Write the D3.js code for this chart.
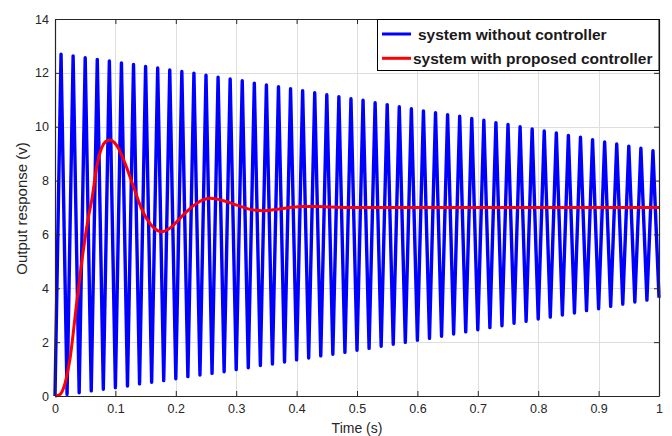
<!DOCTYPE html>
<html>
<head>
<meta charset="utf-8">
<script src="https://cdn.jsdelivr.net/npm/d3@7"></script>
<style>
  html, body { margin: 0; padding: 0; background: #fff; }
  svg { display: block; font-family: 'Liberation Sans', Arial, sans-serif; }
</style>
</head>
<body>
<svg id="chart" width="672" height="436"></svg>
<script>
// values
// system without controller: peak / trough of every cycle
const cycle = 0.02
const peakValues = [
    12.69, 12.63, 12.56, 12.50, 12.44, 12.37, 12.31, 12.24, 12.18, 12.11,
    12.05, 11.99, 11.91, 11.84, 11.77, 11.71, 11.62, 11.55, 11.49, 11.41,
    11.34, 11.26, 11.19, 11.11, 11.04, 10.98, 10.89, 10.82, 10.74, 10.67,
    10.59, 10.52, 10.45, 10.39, 10.31, 10.24, 10.15, 10.08, 10.00, 9.92,
    9.84, 9.77, 9.68, 9.61, 9.52, 9.43, 9.36, 9.28, 9.20, 9.11
]
const troughValues = [
    0.06, 0.12, 0.19, 0.25, 0.31, 0.37, 0.45, 0.51, 0.57, 0.64,
    0.72, 0.78, 0.84, 0.90, 0.98, 1.05, 1.13, 1.19, 1.26, 1.34,
    1.41, 1.49, 1.55, 1.62, 1.70, 1.77, 1.85, 1.92, 1.99, 2.07,
    2.14, 2.22, 2.30, 2.38, 2.46, 2.54, 2.61, 2.70, 2.77, 2.86,
    2.93, 3.01, 3.08, 3.17, 3.24, 3.33, 3.41, 3.49, 3.56, 3.65
]

// system with proposed controller
const redTime = [
    0, 0.008, 0.015, 0.020, 0.025, 0.030, 0.035, 0.040, 0.045, 0.050,
    0.055, 0.061, 0.069, 0.077, 0.084, 0.091, 0.098, 0.105, 0.116, 0.130,
    0.143, 0.157, 0.177, 0.190, 0.212, 0.235, 0.257, 0.279, 0.301, 0.323,
    0.345, 0.367, 0.389, 0.411, 0.433, 0.455, 0.5, 0.6, 0.7, 0.8, 0.9, 1.0
]
const redValue = [
    0, 0.05, 0.35, 0.8, 1.4, 2.3, 3.3, 4.2, 5.1, 5.9,
    6.6, 7.3, 8.5, 9.2, 9.45, 9.51, 9.42, 9.2, 8.64, 7.77,
    6.97, 6.41, 6.10, 6.23, 6.72, 7.16, 7.34, 7.25, 7.09, 6.93,
    6.88, 6.93, 7.00, 7.04, 7.04, 7.02, 7.0, 7.0, 7.0, 7.0, 7.0, 7.0
]

const xTicks = [0, 0.1, 0.2, 0.3, 0.4, 0.5, 0.6, 0.7, 0.8, 0.9, 1]
const yTicks = [0, 2, 4, 6, 8, 10, 12, 14]
const legendLabels = ['system without controller', 'system with proposed controller']
const seriesColors = ['#0000ff', '#ff0000']

const margin = { left: 55, right: 13, top: 19, bottom: 40 }
const W = 672, H = 436
const svg = d3.select('#chart')

const x = d3.scaleLinear().domain([0, 1]).range([margin.left, W - margin.right])
const y = d3.scaleLinear().domain([0, 14]).range([H - margin.bottom, margin.top])
const axisColor = '#262626'

// grid
const grid = svg.append('g').attr('stroke', '#dedede').attr('stroke-width', 1)
grid.selectAll('.vg')
    .data(xTicks.slice(1, -1))
    .enter()
    .append('line')
    .attr('x1', d => Math.round(x(d)) + 0.5)
    .attr('x2', d => Math.round(x(d)) + 0.5)
    .attr('y1', y(0))
    .attr('y2', y(14))
grid.selectAll('.hg')
    .data(yTicks.slice(1, -1))
    .enter()
    .append('line')
    .attr('y1', d => Math.round(y(d)) + 0.5)
    .attr('y2', d => Math.round(y(d)) + 0.5)
    .attr('x1', x(0))
    .attr('x2', x(1))

// blue series
const bluePts = [[0, 0]]
peakValues.forEach(function (p, k) {
    bluePts.push([cycle * k + cycle / 2, p])
    bluePts.push([cycle * (k + 1), troughValues[k]])
})

const line = d3.line().x(d => x(d[0])).y(d => y(d[1]))

svg.append('path')
    .datum(bluePts)
    .attr('d', line)
    .attr('fill', 'none')
    .attr('stroke', seriesColors[0])
    .attr('stroke-width', 3.4)
    .attr('stroke-linejoin', 'round')

const redPts = redTime.map((t, i) => [t, redValue[i]])
svg.append('path')
    .datum(redPts)
    .attr('d', line.curve(d3.curveMonotoneX))
    .attr('fill', 'none')
    .attr('stroke', seriesColors[1])
    .attr('stroke-width', 3)
    .attr('stroke-linejoin', 'round')

// axes (MATLAB box, ticks inside)
const fmt = d => d3.format('~g')(d)
const styleAxis = function (g) {
    g.select('.domain').attr('stroke', axisColor)
    g.selectAll('.tick line').attr('stroke', axisColor)
    g.selectAll('.tick text').attr('fill', axisColor).attr('font-size', 12.5)
}
svg.append('g')
    .attr('transform', `translate(0,${y(0)})`)
    .call(d3.axisBottom(x).tickValues(xTicks).tickFormat(fmt).tickSizeInner(-5).tickSizeOuter(0).tickPadding(8))
    .call(styleAxis)
svg.append('g')
    .attr('transform', `translate(0,${y(14)})`)
    .call(d3.axisTop(x).tickValues(xTicks).tickFormat('').tickSizeInner(-5).tickSizeOuter(0))
    .call(styleAxis)
svg.append('g')
    .attr('transform', `translate(${x(0)},0)`)
    .call(d3.axisLeft(y).tickValues(yTicks).tickFormat(fmt).tickSizeInner(-5).tickSizeOuter(0).tickPadding(6))
    .call(styleAxis)
svg.append('g')
    .attr('transform', `translate(${x(1)},0)`)
    .call(d3.axisRight(y).tickValues(yTicks).tickFormat('').tickSizeInner(-5).tickSizeOuter(0))
    .call(styleAxis)
svg.selectAll('.domain').attr('stroke-width', 1.2)

// axis titles
svg.append('text')
    .text('Time (s)')
    .attr('x', (x(0) + x(1)) / 2)
    .attr('y', 433)
    .attr('text-anchor', 'middle')
    .attr('font-size', 14)
    .attr('fill', axisColor)
svg.append('text')
    .text('Output response (v)')
    .attr('transform', `translate(27,${(y(0) + y(14)) / 2 + 1}) rotate(-90)`)
    .attr('text-anchor', 'middle')
    .attr('font-size', 15)
    .attr('fill', axisColor)

// legend
const legend = svg.append('g')
legend.append('rect')
    .attr('x', 377.5)
    .attr('y', 19.5)
    .attr('width', 281.5)
    .attr('height', 51)
    .attr('fill', '#fff')
    .attr('stroke', '#000')
    .attr('stroke-width', 1)
const rows = legend.selectAll('.row')
    .data(legendLabels)
    .enter()
    .append('g')
    .attr('transform', (d, i) => `translate(0,${34 + i * 24.3})`)
rows.append('line')
    .attr('x1', 382)
    .attr('x2', 411)
    .attr('stroke', (d, i) => seriesColors[i])
    .attr('stroke-width', 3)
rows.append('text')
    .text(d => d)
    .attr('x', (d, i) => i === 0 ? 418 : 413)
    .attr('dy', '0.36em')
    .attr('font-size', 15.5)
    .attr('font-weight', 'bold')
    .attr('fill', '#1a1a1a')
</script>
</body>
</html>
